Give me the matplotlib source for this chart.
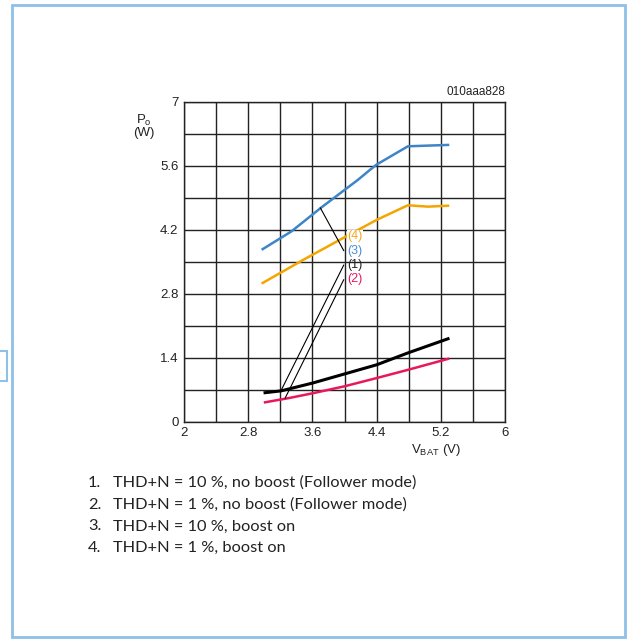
import matplotlib
matplotlib.use('Agg')
import matplotlib.pyplot as plt
from matplotlib.patches import Rectangle

plt.rcParams['font.family'] = ['Liberation Sans', 'DejaVu Sans']

# Curve data (VBAT in V, Po in W)
v_thd10_noboost = [3.01, 3.21, 3.6, 4.0, 4.4, 4.79, 5.29]
p_thd10_noboost = [0.63, 0.67, 0.84, 1.04, 1.24, 1.50, 1.81]

v_thd1_noboost = [3.01, 3.3, 3.61, 4.0, 4.4, 4.79, 5.29]
p_thd1_noboost = [0.42, 0.51, 0.62, 0.77, 0.95, 1.13, 1.37]

v_thd10_boost = [2.98, 3.34, 3.71, 4.17, 4.30, 4.40, 4.79, 5.29]
p_thd10_boost = [3.77, 4.16, 4.68, 5.29, 5.48, 5.62, 6.02, 6.05]

v_thd1_boost = [2.98, 3.49, 3.99, 4.40, 4.79, 5.04, 5.29]
p_thd1_boost = [3.03, 3.54, 4.02, 4.41, 4.73, 4.70, 4.72]

xticks = [2, 2.8, 3.6, 4.4, 5.2, 6]
yticks = [0, 1.4, 2.8, 4.2, 5.6, 7]

legend_items = [
    'THD+N = 10 %, no boost (Follower mode)',
    'THD+N = 1 %, no boost (Follower mode)',
    'THD+N = 10 %, boost on',
    'THD+N = 1 %, boost on',
]

# curve label text positions and leader line ends
label_names = ['(4)', '(3)', '(1)', '(2)']
label_y = [4.05, 3.73, 3.43, 3.12]
label_colors = ['#f5a81c', '#4a8fd6', '#222222', '#e8185a']
leader_start = [(3.70, 4.67), (3.21, 0.68), (3.26, 0.51)]
leader_end = [(3.99, 3.74), (3.99, 3.42), (3.99, 3.10)]

fig = plt.figure(figsize=(6.29, 6.42), dpi=100)

# outer light-blue frame
fig.patches.append(Rectangle((12 / 629, 5 / 642), 613 / 629, 632 / 642,
                             transform=fig.transFigure, fill=False,
                             edgecolor='#8ec0e8', linewidth=2))
fig.patches.append(Rectangle((-2 / 629, (642 - 381) / 642), 9 / 629, 30 / 642,
                             transform=fig.transFigure, fill=False,
                             edgecolor='#8ec0e8', linewidth=1.5))

ax = fig.add_axes([184 / 629, 1 - 421.5 / 642, 321 / 629, 320 / 642])
ax.set_xlim(2, 6)
ax.set_ylim(0, 7)
ax.set_xticks([2 + 0.4 * i for i in range(11)])
ax.set_yticks([0.7 * i for i in range(11)])
ax.grid(True, color='#222222', linewidth=1)
ax.set_xticklabels([f'{v:g}' if any(abs(v - t) < 1e-6 for t in xticks) else ''
                    for v in ax.get_xticks()])
ax.set_yticklabels([f'{v:g}' if any(abs(v - t) < 1e-6 for t in yticks) else ''
                    for v in ax.get_yticks()])
ax.tick_params(length=0, labelsize=9.5, colors='#222222', pad=4)
for s in ax.spines.values():
    s.set_color('#222222')
    s.set_linewidth(1)

ax.plot(v_thd10_boost, p_thd10_boost, color='#3d85c8', linewidth=1.8, zorder=3)
ax.plot(v_thd1_boost, p_thd1_boost, color='#f5a500', linewidth=1.8, zorder=3)
ax.plot(v_thd10_noboost, p_thd10_noboost, color='black', linewidth=2.2, zorder=3)
ax.plot(v_thd1_noboost, p_thd1_noboost, color='#e8185a', linewidth=1.8, zorder=3)

for (x0, y0), (x1, y1) in zip(leader_start, leader_end):
    ax.plot([x0, x1], [y0, y1], color='black', linewidth=0.8, zorder=4)

for i, (name, y, c) in enumerate(zip(label_names, label_y, label_colors)):
    t = ax.text(4.035, y, name, color=c, fontsize=9, ha='left', va='center', zorder=5)
    if i == 0:
        # the boost-on 1 % curve is broken behind its label
        t.set_bbox(dict(facecolor='white', edgecolor='none', pad=0.3))

ax.text(-0.125, 0.923, 'P$_\\mathregular{o}$\n(W)', transform=ax.transAxes,
        ha='center', va='center', fontsize=9.5, color='#222222', linespacing=0.9)
ax.text(1.0, 1.012, '010aaa828', transform=ax.transAxes, ha='right', va='bottom',
        fontsize=8.5, color='#222222')
ax.text(0.785, -0.065, 'V$_\\mathregular{BAT}$ (V)', transform=ax.transAxes,
        ha='center', va='top', fontsize=9.5, color='#222222')

for i, item in enumerate(legend_items):
    y = 1 - (483 + 21.7 * i) / 642
    fig.text(88 / 629, y, f'{i + 1}.', fontsize=11.8, va='center', ha='left',
             family=['Lato', 'DejaVu Sans'], color='#222222')
    fig.text(113 / 629, y, item, fontsize=11.8, va='center', ha='left',
             family=['Lato', 'DejaVu Sans'], color='#222222')

fig.savefig('out.png', dpi=100)
